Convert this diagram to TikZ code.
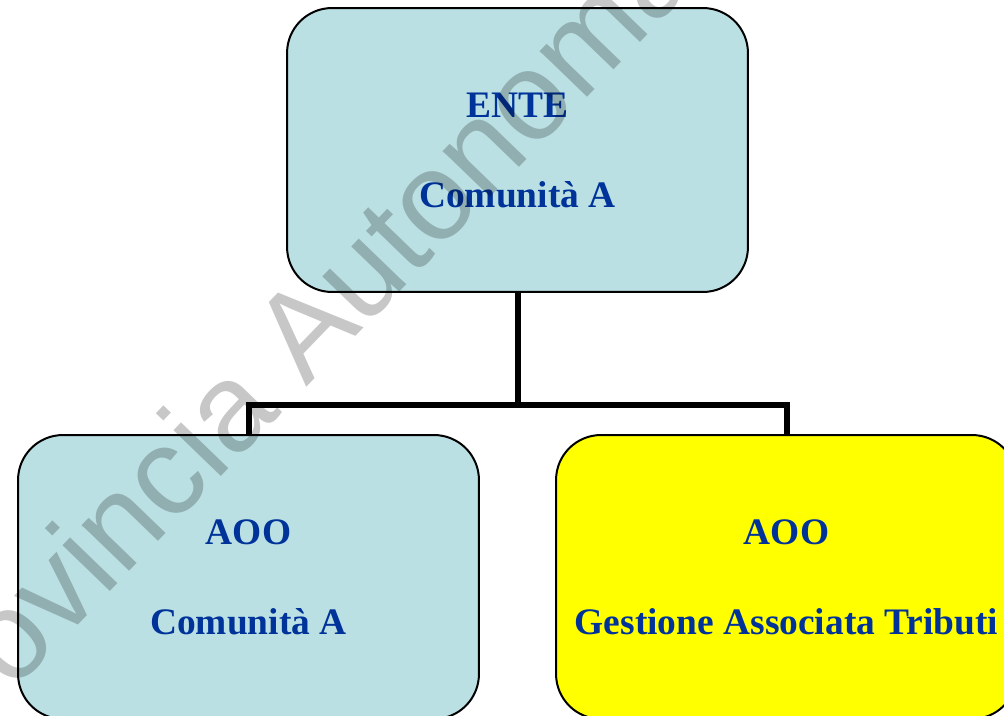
\documentclass[tikz,border=0pt]{standalone}
\usepackage{fontspec}
\setmainfont{Liberation Serif}
\newfontfamily\markfont{Liberation Sans}
\usetikzlibrary{calc}
\definecolor{turq}{RGB}{187,224,227}
\definecolor{dblue}{RGB}{0,51,153}
\definecolor{pureyellow}{RGB}{255,255,0}
\tikzset{
    office/.style = {rectangle,
                    rounded corners=0.9cm,
                    draw=black,
                    line width=0.04cm,
                    text=dblue,
                    align=center,
                    font=\fontsize{21.3}{51.2}\selectfont\bfseries,
                    minimum width=9.22cm,
                    minimum height=5.68cm},
    cyanoffice/.style = {office,
                    fill=turq},
    yellowoffice/.style = {office,
                    fill=pureyellow},
    link/.style =   {line width=0.12cm,
                    draw=black},
    watermark/.style = {anchor=base west,
                    rotate=46,
                    text=black,
                    text opacity=0.22,
                    inner sep=0pt,
                    font=\markfont\fontsize{71}{80}\selectfont}}

\begin{document}
\begin{tikzpicture}[x=0.02cm,y=-0.02cm]
    \useasboundingbox (0,0) rectangle (1004,716);
    \clip (0,0) rectangle (1004,716);
    \node[cyanoffice]   (E) at (517.5,150) {ENTE\\Comunità A};
    \node[cyanoffice]   (A) at (248.5,577) {AOO\\Comunità A};
    \node[yellowoffice] (G) at (786.5,577) {AOO\\Gestione Associata Tributi};
    \coordinate (F) at (517.5,405);
    \path [link] (E.south) -- (F) -| (A.north)
                 (F) -| (G.north);
    % watermark
    \node[watermark] (W) at (-74,782) {Provincia Autonoma};
\end{tikzpicture}
\end{document}
